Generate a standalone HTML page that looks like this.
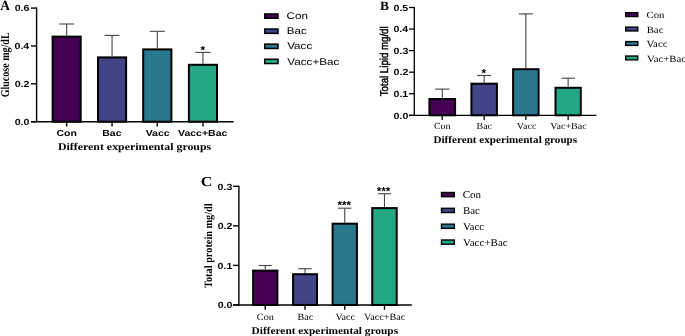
<!DOCTYPE html><html><head><meta charset="utf-8"><style>html,body{margin:0;padding:0;background:#fff;width:685px;height:336px;overflow:hidden}svg{display:block}</style></head><body>
<svg width="685" height="336" viewBox="0 0 685 336" text-rendering="geometricPrecision" style="will-change:transform">
<rect width="685" height="336" fill="#fff"/>
<line x1="36.60" y1="7.50" x2="36.60" y2="122.30" stroke="#000" stroke-width="1.4"/>
<line x1="31.00" y1="121.70" x2="233.60" y2="121.70" stroke="#000" stroke-width="1.4"/>
<line x1="31.00" y1="8.10" x2="36.60" y2="8.10" stroke="#000" stroke-width="1.4"/>
<line x1="31.00" y1="45.97" x2="36.60" y2="45.97" stroke="#000" stroke-width="1.4"/>
<line x1="31.00" y1="83.83" x2="36.60" y2="83.83" stroke="#000" stroke-width="1.4"/>
<line x1="31.00" y1="121.70" x2="36.60" y2="121.70" stroke="#000" stroke-width="1.4"/>
<line x1="66.65" y1="35.60" x2="66.65" y2="24.00" stroke="#444" stroke-width="1.1"/>
<line x1="59.15" y1="24.00" x2="74.15" y2="24.00" stroke="#444" stroke-width="1.1"/>
<rect x="52.60" y="36.60" width="28.10" height="85.10" fill="#440154" stroke="#000" stroke-width="2.0"/>
<line x1="66.65" y1="121.70" x2="66.65" y2="126.50" stroke="#000" stroke-width="1.4"/>
<line x1="112.05" y1="56.40" x2="112.05" y2="35.40" stroke="#444" stroke-width="1.1"/>
<line x1="104.55" y1="35.40" x2="119.55" y2="35.40" stroke="#444" stroke-width="1.1"/>
<rect x="98.00" y="57.40" width="28.10" height="64.30" fill="#414487" stroke="#000" stroke-width="2.0"/>
<line x1="112.05" y1="121.70" x2="112.05" y2="126.50" stroke="#000" stroke-width="1.4"/>
<line x1="157.30" y1="48.40" x2="157.30" y2="31.30" stroke="#444" stroke-width="1.1"/>
<line x1="149.80" y1="31.30" x2="164.80" y2="31.30" stroke="#444" stroke-width="1.1"/>
<rect x="143.20" y="49.40" width="28.20" height="72.30" fill="#2a788e" stroke="#000" stroke-width="2.0"/>
<line x1="157.30" y1="121.70" x2="157.30" y2="126.50" stroke="#000" stroke-width="1.4"/>
<line x1="202.95" y1="63.80" x2="202.95" y2="52.40" stroke="#444" stroke-width="1.1"/>
<line x1="195.45" y1="52.40" x2="210.45" y2="52.40" stroke="#444" stroke-width="1.1"/>
<rect x="188.90" y="64.80" width="28.10" height="56.90" fill="#22a884" stroke="#000" stroke-width="2.0"/>
<line x1="202.95" y1="121.70" x2="202.95" y2="126.50" stroke="#000" stroke-width="1.4"/>
<line x1="414.30" y1="6.90" x2="414.30" y2="115.90" stroke="#000" stroke-width="1.3"/>
<line x1="409.00" y1="115.30" x2="596.40" y2="115.30" stroke="#000" stroke-width="1.3"/>
<line x1="409.00" y1="7.50" x2="414.30" y2="7.50" stroke="#000" stroke-width="1.3"/>
<line x1="409.00" y1="29.06" x2="414.30" y2="29.06" stroke="#000" stroke-width="1.3"/>
<line x1="409.00" y1="50.62" x2="414.30" y2="50.62" stroke="#000" stroke-width="1.3"/>
<line x1="409.00" y1="72.18" x2="414.30" y2="72.18" stroke="#000" stroke-width="1.3"/>
<line x1="409.00" y1="93.74" x2="414.30" y2="93.74" stroke="#000" stroke-width="1.3"/>
<line x1="409.00" y1="115.30" x2="414.30" y2="115.30" stroke="#000" stroke-width="1.3"/>
<line x1="442.25" y1="98.00" x2="442.25" y2="89.10" stroke="#444" stroke-width="1.1"/>
<line x1="435.10" y1="89.10" x2="449.40" y2="89.10" stroke="#444" stroke-width="1.1"/>
<rect x="429.40" y="99.00" width="25.70" height="16.30" fill="#440154" stroke="#000" stroke-width="2.0"/>
<line x1="442.25" y1="115.30" x2="442.25" y2="119.90" stroke="#000" stroke-width="1.3"/>
<line x1="484.15" y1="82.70" x2="484.15" y2="75.50" stroke="#444" stroke-width="1.1"/>
<line x1="477.15" y1="75.50" x2="491.15" y2="75.50" stroke="#444" stroke-width="1.1"/>
<rect x="471.40" y="83.70" width="25.50" height="31.60" fill="#414487" stroke="#000" stroke-width="2.0"/>
<line x1="484.15" y1="115.30" x2="484.15" y2="119.90" stroke="#000" stroke-width="1.3"/>
<line x1="525.85" y1="68.20" x2="525.85" y2="13.90" stroke="#444" stroke-width="1.1"/>
<line x1="518.85" y1="13.90" x2="532.85" y2="13.90" stroke="#444" stroke-width="1.1"/>
<rect x="513.10" y="69.20" width="25.50" height="46.10" fill="#2a788e" stroke="#000" stroke-width="2.0"/>
<line x1="525.85" y1="115.30" x2="525.85" y2="119.90" stroke="#000" stroke-width="1.3"/>
<line x1="568.15" y1="86.80" x2="568.15" y2="78.20" stroke="#444" stroke-width="1.1"/>
<line x1="561.35" y1="78.20" x2="574.95" y2="78.20" stroke="#444" stroke-width="1.1"/>
<rect x="555.50" y="87.80" width="25.30" height="27.50" fill="#22a884" stroke="#000" stroke-width="2.0"/>
<line x1="568.15" y1="115.30" x2="568.15" y2="119.90" stroke="#000" stroke-width="1.3"/>
<line x1="238.90" y1="185.70" x2="238.90" y2="305.55" stroke="#000" stroke-width="1.4"/>
<line x1="233.00" y1="304.95" x2="411.80" y2="304.95" stroke="#000" stroke-width="1.4"/>
<line x1="233.00" y1="186.30" x2="238.90" y2="186.30" stroke="#000" stroke-width="1.4"/>
<line x1="233.00" y1="225.85" x2="238.90" y2="225.85" stroke="#000" stroke-width="1.4"/>
<line x1="233.00" y1="265.40" x2="238.90" y2="265.40" stroke="#000" stroke-width="1.4"/>
<line x1="233.00" y1="304.95" x2="238.90" y2="304.95" stroke="#000" stroke-width="1.4"/>
<line x1="265.25" y1="269.60" x2="265.25" y2="265.50" stroke="#444" stroke-width="1.1"/>
<line x1="258.75" y1="265.50" x2="271.75" y2="265.50" stroke="#444" stroke-width="1.1"/>
<rect x="253.10" y="270.60" width="24.30" height="34.35" fill="#440154" stroke="#000" stroke-width="2.0"/>
<line x1="265.25" y1="304.95" x2="265.25" y2="309.75" stroke="#000" stroke-width="1.4"/>
<line x1="305.05" y1="273.20" x2="305.05" y2="268.75" stroke="#444" stroke-width="1.1"/>
<line x1="298.35" y1="268.75" x2="311.75" y2="268.75" stroke="#444" stroke-width="1.1"/>
<rect x="293.10" y="274.20" width="23.90" height="30.75" fill="#414487" stroke="#000" stroke-width="2.0"/>
<line x1="305.05" y1="304.95" x2="305.05" y2="309.75" stroke="#000" stroke-width="1.4"/>
<line x1="344.75" y1="222.70" x2="344.75" y2="208.20" stroke="#444" stroke-width="1.1"/>
<line x1="338.05" y1="208.20" x2="351.45" y2="208.20" stroke="#444" stroke-width="1.1"/>
<rect x="332.60" y="223.70" width="24.30" height="81.25" fill="#2a788e" stroke="#000" stroke-width="2.0"/>
<line x1="344.75" y1="304.95" x2="344.75" y2="309.75" stroke="#000" stroke-width="1.4"/>
<line x1="384.48" y1="207.10" x2="384.48" y2="193.75" stroke="#444" stroke-width="1.1"/>
<line x1="377.98" y1="193.75" x2="390.98" y2="193.75" stroke="#444" stroke-width="1.1"/>
<rect x="372.25" y="208.10" width="24.45" height="96.85" fill="#22a884" stroke="#000" stroke-width="2.0"/>
<line x1="384.48" y1="304.95" x2="384.48" y2="309.75" stroke="#000" stroke-width="1.4"/>
<rect x="264.75" y="13.95" width="13.25" height="4.30" fill="#440154" stroke="#000" stroke-width="1.5"/>
<rect x="625.70" y="12.70" width="12.10" height="3.80" fill="#440154" stroke="#000" stroke-width="1.4"/>
<rect x="441.50" y="192.50" width="12.80" height="4.20" fill="#440154" stroke="#000" stroke-width="1.4"/>
<rect x="264.75" y="29.05" width="13.25" height="4.30" fill="#414487" stroke="#000" stroke-width="1.5"/>
<rect x="625.70" y="27.15" width="12.10" height="3.80" fill="#414487" stroke="#000" stroke-width="1.4"/>
<rect x="441.50" y="208.33" width="12.80" height="4.20" fill="#414487" stroke="#000" stroke-width="1.4"/>
<rect x="264.75" y="44.15" width="13.25" height="4.30" fill="#2a788e" stroke="#000" stroke-width="1.5"/>
<rect x="625.70" y="41.60" width="12.10" height="3.80" fill="#2a788e" stroke="#000" stroke-width="1.4"/>
<rect x="441.50" y="224.16" width="12.80" height="4.20" fill="#2a788e" stroke="#000" stroke-width="1.4"/>
<rect x="264.75" y="59.25" width="13.25" height="4.30" fill="#22a884" stroke="#000" stroke-width="1.5"/>
<rect x="625.70" y="56.05" width="12.10" height="3.80" fill="#22a884" stroke="#000" stroke-width="1.4"/>
<rect x="441.50" y="239.99" width="12.80" height="4.20" fill="#22a884" stroke="#000" stroke-width="1.4"/>
<text transform="translate(0.37,9.80) scale(0.957,1)" font-family='"Liberation Serif", serif' font-size="13.94" font-weight="bold">A</text>
<text transform="translate(14.67,11.41) scale(1.196,1)" font-family='"Liberation Sans", sans-serif' font-size="8.87" font-weight="bold">0.6</text>
<text transform="translate(14.51,49.31) scale(1.196,1)" font-family='"Liberation Sans", sans-serif' font-size="8.87" font-weight="bold">0.4</text>
<text transform="translate(14.70,87.21) scale(1.196,1)" font-family='"Liberation Sans", sans-serif' font-size="8.87" font-weight="bold">0.2</text>
<text transform="translate(14.70,125.01) scale(1.196,1)" font-family='"Liberation Sans", sans-serif' font-size="8.87" font-weight="bold">0.0</text>
<text transform="translate(56.47,135.53) scale(1.197,1)" font-family='"Liberation Sans", sans-serif' font-size="8.78" font-weight="bold">Con</text>
<text transform="translate(102.28,135.51) scale(1.197,1)" font-family='"Liberation Sans", sans-serif' font-size="8.78" font-weight="bold">Bac</text>
<text transform="translate(145.63,135.51) scale(1.197,1)" font-family='"Liberation Sans", sans-serif' font-size="8.78" font-weight="bold">Vacc</text>
<text transform="translate(178.02,135.71) scale(1.197,1)" font-family='"Liberation Sans", sans-serif' font-size="8.78" font-weight="bold">Vacc+Bac</text>
<text transform="translate(57.96,149.70) scale(1.162,1)" font-family='"Liberation Serif", serif' font-size="10.23" font-weight="bold">Different experimental groups</text>
<text transform="translate(8.78,97.30) rotate(-90) scale(0.840,1)" font-family='"Liberation Serif", serif' font-size="11.94" font-weight="bold">Glucose mg/dL</text>
<text transform="translate(286.53,19.11) scale(1.206,1)" font-family='"Liberation Sans", sans-serif' font-size="9.68" font-weight="normal">Con</text>
<text transform="translate(286.74,34.34) scale(1.206,1)" font-family='"Liberation Sans", sans-serif' font-size="9.68" font-weight="normal">Bac</text>
<text transform="translate(287.20,49.47) scale(1.206,1)" font-family='"Liberation Sans", sans-serif' font-size="9.68" font-weight="normal">Vacc</text>
<text transform="translate(287.32,64.92) scale(1.206,1)" font-family='"Liberation Sans", sans-serif' font-size="9.68" font-weight="normal">Vacc+Bac</text>
<text transform="translate(379.90,9.50) scale(1.061,1)" font-family='"Liberation Serif", serif' font-size="12.67" font-weight="bold">B</text>
<text transform="translate(393.52,10.76) scale(1.196,1)" font-family='"Liberation Sans", sans-serif' font-size="8.87" font-weight="bold">0.5</text>
<text transform="translate(393.39,32.32) scale(1.196,1)" font-family='"Liberation Sans", sans-serif' font-size="8.87" font-weight="bold">0.4</text>
<text transform="translate(393.55,53.88) scale(1.196,1)" font-family='"Liberation Sans", sans-serif' font-size="8.87" font-weight="bold">0.3</text>
<text transform="translate(393.58,75.44) scale(1.196,1)" font-family='"Liberation Sans", sans-serif' font-size="8.87" font-weight="bold">0.2</text>
<text transform="translate(393.52,97.00) scale(1.196,1)" font-family='"Liberation Sans", sans-serif' font-size="8.87" font-weight="bold">0.1</text>
<text transform="translate(393.58,118.56) scale(1.196,1)" font-family='"Liberation Sans", sans-serif' font-size="8.87" font-weight="bold">0.0</text>
<text transform="translate(433.92,128.72) scale(1.080,1)" font-family='"Liberation Serif", serif' font-size="9.29" font-weight="normal">Con</text>
<text transform="translate(476.48,128.90) scale(1.080,1)" font-family='"Liberation Serif", serif' font-size="9.29" font-weight="normal">Bac</text>
<text transform="translate(516.87,128.77) scale(1.080,1)" font-family='"Liberation Serif", serif' font-size="9.29" font-weight="normal">Vacc</text>
<text transform="translate(550.37,128.77) scale(1.080,1)" font-family='"Liberation Serif", serif' font-size="9.29" font-weight="normal">Vac+Bac</text>
<text transform="translate(433.48,142.55) scale(1.089,1)" font-family='"Liberation Serif", serif' font-size="10.23" font-weight="bold">Different experimental groups</text>
<text transform="translate(388.00,96.24) rotate(-90) scale(0.856,1)" font-family='"Liberation Sans", sans-serif' font-size="11.31" font-weight="normal" stroke="#000" stroke-width="0.45">Total Lipid mg/dl</text>
<text transform="translate(646.47,17.89) scale(1.136,1)" font-family='"Liberation Serif", serif' font-size="9.51" font-weight="normal">Con</text>
<text transform="translate(646.67,32.67) scale(1.136,1)" font-family='"Liberation Serif", serif' font-size="9.51" font-weight="normal">Bac</text>
<text transform="translate(646.52,47.29) scale(1.136,1)" font-family='"Liberation Serif", serif' font-size="9.51" font-weight="normal">Vacc</text>
<text transform="translate(647.09,61.59) scale(1.136,1)" font-family='"Liberation Serif", serif' font-size="9.51" font-weight="normal">Vac+Bac</text>
<text transform="translate(200.69,185.86) scale(1.175,1)" font-family='"Liberation Serif", serif' font-size="13.73" font-weight="bold">C</text>
<text transform="translate(217.60,189.61) scale(1.196,1)" font-family='"Liberation Sans", sans-serif' font-size="8.87" font-weight="bold">0.3</text>
<text transform="translate(217.63,229.11) scale(1.196,1)" font-family='"Liberation Sans", sans-serif' font-size="8.87" font-weight="bold">0.2</text>
<text transform="translate(217.57,268.61) scale(1.196,1)" font-family='"Liberation Sans", sans-serif' font-size="8.87" font-weight="bold">0.1</text>
<text transform="translate(217.63,308.11) scale(1.196,1)" font-family='"Liberation Sans", sans-serif' font-size="8.87" font-weight="bold">0.0</text>
<text transform="translate(256.86,319.60) scale(1.064,1)" font-family='"Liberation Serif", serif' font-size="9.55" font-weight="normal">Con</text>
<text transform="translate(297.50,319.58) scale(1.064,1)" font-family='"Liberation Serif", serif' font-size="9.55" font-weight="normal">Bac</text>
<text transform="translate(335.39,319.56) scale(1.064,1)" font-family='"Liberation Serif", serif' font-size="9.55" font-weight="normal">Vacc</text>
<text transform="translate(364.02,319.56) scale(1.064,1)" font-family='"Liberation Serif", serif' font-size="9.55" font-weight="normal">Vacc+Bac</text>
<text transform="translate(251.57,333.70) scale(1.111,1)" font-family='"Liberation Serif", serif' font-size="10.23" font-weight="bold">Different experimental groups</text>
<text transform="translate(212.00,287.95) rotate(-90) scale(0.924,1)" font-family='"Liberation Serif", serif' font-size="11.15" font-weight="bold">Total protein mg/dl</text>
<text transform="translate(462.70,198.10) scale(1.053,1)" font-family='"Liberation Serif", serif' font-size="10.45" font-weight="normal">Con</text>
<text transform="translate(462.89,213.97) scale(1.053,1)" font-family='"Liberation Serif", serif' font-size="10.45" font-weight="normal">Bac</text>
<text transform="translate(462.89,229.89) scale(1.053,1)" font-family='"Liberation Serif", serif' font-size="10.45" font-weight="normal">Vacc</text>
<text transform="translate(463.02,245.94) scale(1.053,1)" font-family='"Liberation Serif", serif' font-size="10.45" font-weight="normal">Vacc+Bac</text>
<text transform="translate(200.62,53.55) scale(1.005,1)" font-family='"Liberation Sans", sans-serif' font-size="11.64" font-weight="bold">*</text>
<text transform="translate(481.62,76.75) scale(1.005,1)" font-family='"Liberation Sans", sans-serif' font-size="11.64" font-weight="bold">*</text>
<text transform="translate(337.51,208.75) scale(1.005,1)" font-family='"Liberation Sans", sans-serif' font-size="11.64" font-weight="bold">***</text>
<text transform="translate(376.66,194.50) scale(1.005,1)" font-family='"Liberation Sans", sans-serif' font-size="11.64" font-weight="bold">***</text>
</svg></body></html>
